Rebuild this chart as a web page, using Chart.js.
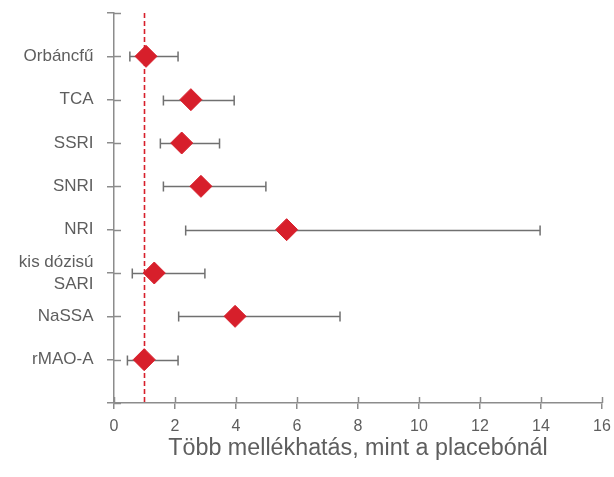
<!DOCTYPE html>
<html>
<head>
<meta charset="utf-8">
<script src="https://cdn.jsdelivr.net/npm/chart.js@4"></script>
<style>
  html, body { margin: 0; padding: 0; background: #ffffff; }
  canvas { display: block; }
</style>
</head>
<body>
<canvas id="chart" width="614" height="477"></canvas>
<script>
// Antidepressant classes, top to bottom
const categories = ['Orbáncfű', 'TCA', 'SSRI', 'SNRI', 'NRI', ['kis dózisú', 'SARI'], 'NaSSA', 'rMAO-A'];
// Point estimate and confidence interval for each class
const estimates = [1.05, 2.52, 2.22, 2.85, 5.66, 1.32, 3.97, 0.99];
const lowerCI   = [0.52, 1.62, 1.52, 1.62, 2.35, 0.60, 2.12, 0.44];
const upperCI   = [2.10, 3.94, 3.46, 4.98, 13.97, 2.98, 7.41, 2.10];
// Placebo reference value
const referenceValue = 1;
// Horizontal axis
const xMin = 0, xMax = 16, xStep = 2;
const xTitle = 'Több mellékhatás, mint a placebónál';

const FONT = "'Liberation Sans', Arial, Helvetica, sans-serif";
const TEXT = '#5e5e5e';
const AXIS = '#8c8c8c';
const BAR = '#707070';
const RED = '#d71f2b';

// Draws the inner halves of the crossing tick marks, the placebo line and the CI whiskers
const forestPlugin = {
  id: 'forest',
  beforeDatasetsDraw(chart) {
    const { ctx, scales: { x, y } } = chart;
    ctx.save();
    ctx.lineCap = 'butt';

    ctx.strokeStyle = AXIS;
    ctx.lineWidth = 1.5;
    x.ticks.forEach(t => {
      const px = Math.round(x.getPixelForValue(t.value)) + 0.5;
      ctx.beginPath();
      ctx.moveTo(px, y.bottom);
      ctx.lineTo(px, y.bottom - 6);
      ctx.stroke();
    });
    y.ticks.forEach(t => {
      const py = Math.round(y.getPixelForValue(t.value)) + 0.5;
      ctx.beginPath();
      ctx.moveTo(x.left, py);
      ctx.lineTo(x.left + 7, py);
      ctx.stroke();
    });

    // placebo line
    const rx = x.getPixelForValue(referenceValue);
    ctx.strokeStyle = RED;
    ctx.lineWidth = 1.6;
    ctx.setLineDash([5, 3]);
    ctx.beginPath();
    ctx.moveTo(rx, y.top);
    ctx.lineTo(rx, y.bottom);
    ctx.stroke();
    ctx.setLineDash([]);

    // confidence intervals
    ctx.strokeStyle = BAR;
    ctx.lineWidth = 1.5;
    estimates.forEach((_, i) => {
      const py = Math.round(y.getPixelForValue(i + 1)) + 0.5;
      const x0 = x.getPixelForValue(lowerCI[i]);
      const x1 = x.getPixelForValue(upperCI[i]);
      ctx.beginPath();
      ctx.moveTo(x0, py);
      ctx.lineTo(x1, py);
      ctx.moveTo(x0, py - 5);
      ctx.lineTo(x0, py + 5);
      ctx.moveTo(x1, py - 5);
      ctx.lineTo(x1, py + 5);
      ctx.stroke();
    });
    ctx.restore();
  }
};

// fixed axis box sizes, no extra room for overhanging end labels
const fixX = s => { s.height = 74; s.paddingLeft = 0; s.paddingRight = 0; };
const fixY = s => { s.width = 114; s.paddingTop = 0; s.paddingBottom = 0; };

new Chart(document.getElementById('chart'), {
  type: 'scatter',
  data: {
    datasets: [{
      data: estimates.map((v, i) => ({ x: v, y: i + 1 })),
      pointStyle: 'rectRot',
      pointRadius: 11,
      pointHoverRadius: 11,
      backgroundColor: RED,
      borderColor: RED,
      borderWidth: 1
    }]
  },
  options: {
    responsive: false,
    animation: false,
    events: [],
    layout: { padding: { left: 0, right: 12, top: 13, bottom: 0 } },
    plugins: { legend: { display: false }, tooltip: { enabled: false } },
    scales: {
      x: {
        type: 'linear',
        position: 'bottom',
        min: xMin,
        max: xMax,
        afterFit: fixX,
        ticks: {
          stepSize: xStep,
          color: TEXT,
          padding: 8,
          font: { family: FONT, size: 16 }
        },
        grid: { drawOnChartArea: false, drawTicks: true, tickLength: 6, color: AXIS, lineWidth: 1.5 },
        border: { display: true, color: AXIS, width: 1.5 },
        title: {
          display: true,
          text: xTitle,
          color: TEXT,
          font: { family: FONT, size: 23.3 },
          padding: { top: 0, bottom: 14 }
        }
      },
      y: {
        type: 'linear',
        min: 0,
        max: categories.length + 1,
        reverse: true,
        afterFit: fixY,
        ticks: {
          stepSize: 1,
          autoSkip: false,
          color: TEXT,
          padding: 13.5,
          font: { family: FONT, size: 17, lineHeight: 1.3 },
          callback: v => (v >= 1 && v <= categories.length) ? categories[v - 1] : ''
        },
        grid: { drawOnChartArea: false, drawTicks: true, tickLength: 7, color: AXIS, lineWidth: 1.5 },
        border: { display: true, color: AXIS, width: 1.5 }
      }
    }
  },
  plugins: [forestPlugin]
});
</script>
</body>
</html>
